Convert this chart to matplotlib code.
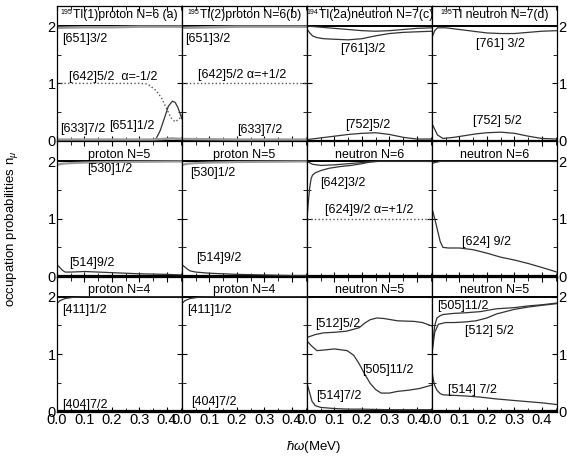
import numpy as np
import matplotlib
matplotlib.use('Agg')
import matplotlib.pyplot as plt
from matplotlib.ticker import MultipleLocator
from matplotlib.offsetbox import TextArea, HPacker, AnnotationBbox

plt.rcParams['font.family'] = ['Liberation Sans', 'DejaVu Sans']
plt.rcParams['mathtext.fontset'] = 'custom'
plt.rcParams['mathtext.rm'] = 'Liberation Sans'
plt.rcParams['mathtext.it'] = 'Liberation Sans:italic'

# ---- row 1 : N=6 proton / N=7 neutron ----
a1_651_32_x = [0, 0.1, 0.2, 0.3, 0.455]
a1_651_32_y = [1.97, 1.98, 1.98, 1.99, 1.99]
a1_642_52_x = [0, 0.1, 0.2, 0.3, 0.33, 0.36, 0.38, 0.40, 0.415, 0.43, 0.445, 0.455]
a1_642_52_y = [1.0, 1.0, 1.0, 1.0, 0.99, 0.88, 0.75, 0.55, 0.40, 0.33, 0.38, 0.45]
a1_651_12_x = [0, 0.34, 0.36, 0.375, 0.39, 0.405, 0.42, 0.43, 0.44, 0.455]
a1_651_12_y = [0, 0, 0.03, 0.17, 0.38, 0.60, 0.69, 0.67, 0.58, 0.38]
a1_633_72_x = [0, 0.2, 0.35, 0.42, 0.455]
a1_633_72_y = [0.02, 0.02, 0.02, 0.04, 0.03]

b1_651_32_x = [0, 0.1, 0.2, 0.3, 0.455]
b1_651_32_y = [1.97, 1.98, 1.99, 1.99, 1.99]
b1_642_52_x = [0, 0.455]
b1_642_52_y = [1.0, 1.0]
b1_633_72_x = [0, 0.2, 0.455]
b1_633_72_y = [0.03, 0.02, 0.02]

c1_761_32_x = [0, 0.01, 0.02, 0.035, 0.06, 0.1, 0.15, 0.2, 0.25, 0.3, 0.35, 0.4, 0.455]
c1_761_32_y = [1.95, 1.88, 1.83, 1.80, 1.78, 1.77, 1.76, 1.78, 1.83, 1.87, 1.89, 1.90, 1.91]
c1_up_x = [0, 0.05, 0.1, 0.15, 0.2, 0.25, 0.3, 0.35, 0.4, 0.455]
c1_up_y = [2.0, 1.98, 1.96, 1.94, 1.92, 1.91, 1.92, 1.94, 1.96, 1.97]
c1_752_52_x = [0, 0.05, 0.1, 0.15, 0.2, 0.25, 0.3, 0.35, 0.4, 0.455]
c1_752_52_y = [0.02, 0.05, 0.08, 0.11, 0.13, 0.14, 0.11, 0.06, 0.03, 0.03]

d1_761_32_x = [0, 0.01, 0.02, 0.05, 0.1, 0.15, 0.2, 0.25, 0.3, 0.35, 0.4, 0.455]
d1_761_32_y = [1.80, 1.92, 1.97, 1.97, 1.94, 1.91, 1.88, 1.87, 1.87, 1.89, 1.91, 1.92]
d1_752_52_x = [0, 0.01, 0.02, 0.04, 0.08, 0.12, 0.16, 0.2, 0.25, 0.3, 0.35, 0.4, 0.455]
d1_752_52_y = [0.30, 0.20, 0.10, 0.04, 0.06, 0.09, 0.12, 0.14, 0.15, 0.13, 0.08, 0.04, 0.03]

# ---- row 2 : proton N=5 / neutron N=6 ----
a2_530_12_x = [0, 0.02, 0.05, 0.1, 0.2, 0.455]
a2_530_12_y = [1.94, 1.96, 1.97, 1.98, 1.99, 2.0]
a2_514_92_x = [0, 0.01, 0.02, 0.03, 0.05, 0.1, 0.15, 0.2, 0.3, 0.4, 0.455]
a2_514_92_y = [0.20, 0.15, 0.10, 0.07, 0.07, 0.08, 0.07, 0.06, 0.04, 0.03, 0.02]

b2_530_12_x = [0, 0.02, 0.05, 0.1, 0.2, 0.455]
b2_530_12_y = [1.94, 1.96, 1.97, 1.98, 1.99, 2.0]
b2_514_92_x = [0, 0.01, 0.02, 0.03, 0.05, 0.1, 0.15, 0.2, 0.3, 0.4, 0.455]
b2_514_92_y = [0.20, 0.16, 0.12, 0.09, 0.07, 0.05, 0.04, 0.03, 0.02, 0.01, 0.01]

c2_642_32_x = [0, 0.005, 0.01, 0.015, 0.02, 0.03, 0.05, 0.08, 0.12, 0.16, 0.2, 0.23, 0.26, 0.455]
c2_642_32_y = [1.0, 1.3, 1.55, 1.70, 1.76, 1.80, 1.84, 1.88, 1.91, 1.93, 1.96, 1.99, 2.0, 2.0]
c2_up_x = [0, 0.02, 0.05, 0.1, 0.15, 0.2, 0.25, 0.455]
c2_up_y = [2.0, 1.95, 1.93, 1.94, 1.96, 1.98, 2.0, 2.0]
c2_624_92_x = [0, 0.455]
c2_624_92_y = [1.0, 1.0]

d2_624_92_x = [0, 0.01, 0.02, 0.03, 0.04, 0.06, 0.1, 0.15, 0.2, 0.25, 0.3, 0.35, 0.4, 0.455]
d2_624_92_y = [1.18, 1.0, 0.8, 0.6, 0.5, 0.49, 0.49, 0.46, 0.40, 0.33, 0.28, 0.22, 0.15, 0.07]
d2_up_x = [0, 0.01, 0.03, 0.455]
d2_up_y = [1.96, 1.98, 2.0, 2.0]

# ---- row 3 : proton N=4 / neutron N=5 ----
a3_411_12_x = [0, 0.01, 0.03, 0.06, 0.1, 0.455]
a3_411_12_y = [1.88, 1.93, 1.97, 1.99, 2.0, 2.0]
b3_411_12_x = [0, 0.01, 0.03, 0.06, 0.1, 0.455]
b3_411_12_y = [1.88, 1.93, 1.97, 1.99, 2.0, 2.0]

c3_512_52_x = [0, 0.03, 0.06, 0.1, 0.145, 0.19, 0.21, 0.23, 0.255, 0.28, 0.33, 0.39, 0.42, 0.455]
c3_512_52_y = [1.29, 1.34, 1.37, 1.38, 1.40, 1.46, 1.54, 1.60, 1.63, 1.62, 1.58, 1.57, 1.55, 1.49]
c3_505_112_x = [0, 0.015, 0.036, 0.06, 0.1, 0.146, 0.17, 0.19, 0.21, 0.23, 0.25, 0.27, 0.3, 0.33, 0.37, 0.41, 0.455]
c3_505_112_y = [1.23, 1.15, 1.06, 1.07, 1.09, 1.06, 0.98, 0.83, 0.65, 0.49, 0.38, 0.32, 0.32, 0.35, 0.37, 0.40, 0.46]
c3_514_72_x = [0, 0.01, 0.018, 0.03, 0.05, 0.1, 0.15, 0.2, 0.3, 0.4, 0.455]
c3_514_72_y = [0.49, 0.32, 0.18, 0.10, 0.07, 0.05, 0.04, 0.04, 0.03, 0.03, 0.03]

d3_505_112_x = [0, 0.005, 0.01, 0.018, 0.03, 0.04, 0.08, 0.12, 0.175, 0.21, 0.235, 0.3, 0.35, 0.4, 0.455]
d3_505_112_y = [1.06, 1.30, 1.50, 1.63, 1.67, 1.69, 1.71, 1.72, 1.74, 1.77, 1.79, 1.81, 1.84, 1.86, 1.89]
d3_512_52_x = [0, 0.005, 0.01, 0.023, 0.05, 0.08, 0.12, 0.16, 0.2, 0.22, 0.235, 0.3, 0.35, 0.4, 0.455]
d3_512_52_y = [1.0, 1.2, 1.38, 1.52, 1.55, 1.55, 1.56, 1.58, 1.63, 1.67, 1.70, 1.78, 1.82, 1.85, 1.88]
d3_514_72_x = [0, 0.005, 0.01, 0.018, 0.03, 0.04, 0.08, 0.12, 0.175, 0.23, 0.3, 0.35, 0.4, 0.455]
d3_514_72_y = [0.70, 0.55, 0.45, 0.37, 0.31, 0.29, 0.28, 0.27, 0.25, 0.22, 0.19, 0.17, 0.15, 0.12]

# top row titles: (mass number, rest of title)
top_mass = ['195', '195', '194', '195']
top_title = ['Tl(1)proton N=6 (a)', 'Tl(2)proton N=6(b)',
             'Tl(2a)neutron N=7(c)', 'Tl neutron N=7(d)']
row_titles = [
    ['proton N=5', 'proton N=5', 'neutron N=6', 'neutron N=6'],
    ['proton N=4', 'proton N=4', 'neutron N=5', 'neutron N=5'],
]

fig, axes = plt.subplots(3, 4, figsize=(5.67, 4.57), dpi=100, sharex=True, sharey=True)
fig.subplots_adjust(left=57/567, right=557/567, top=1-6/457, bottom=1-412/457,
                    wspace=0, hspace=0)

dark = '#333333'
gray = '#999999'

for i in range(3):
    for j in range(4):
        ax = axes[i, j]
        ax.set_xlim(0, 0.455)
        ax.set_ylim(-0.01, 2.35)
        ax.axhline(2, color='black', lw=1.4, zorder=1)
        ax.axhline(0, color='black', lw=1.6, zorder=1)
        ax.xaxis.set_major_locator(MultipleLocator(0.1))
        ax.xaxis.set_minor_locator(MultipleLocator(0.05))
        ax.yaxis.set_major_locator(MultipleLocator(1))
        ax.yaxis.set_minor_locator(MultipleLocator(0.5))
        ax.tick_params(which='both', direction='in', top=True, right=True,
                       labelsize=10.5, pad=1)
        ax.tick_params(which='major', length=3.5)
        ax.tick_params(which='minor', length=3)
        ax.tick_params(axis='y', labelleft=(j == 0), labelright=(j == 3))
        for s in ax.spines.values():
            s.set_linewidth(0.9)
        if i == 0:
            sup = TextArea(top_mass[j], textprops=dict(fontsize=5))
            main = TextArea(top_title[j], textprops=dict(fontsize=8.8))
            box = HPacker(children=[sup, main], align='top', pad=0, sep=0.5)
            ab = AnnotationBbox(box, (0.2275, 2.2), xycoords='data', frameon=False,
                                box_alignment=(0.5, 0.5), pad=0)
            ax.add_artist(ab)
        else:
            ax.text(0.2275, 2.12, row_titles[i - 1][j], ha='center', va='center', fontsize=9)
        ax.xaxis.set_major_formatter(plt.FuncFormatter(lambda v, p: '%.1f' % v))

def curve(ax, x, y, c=dark, lw=0.9, ls='-'):
    ax.plot(x, y, color=c, lw=lw, ls=ls, zorder=2)

def lab(ax, x, y, s):
    ax.text(x, y, s, ha='left', va='center', fontsize=9)

# row 1
ax = axes[0, 0]
curve(ax, a1_651_32_x, a1_651_32_y, gray, 1.8)
curve(ax, a1_642_52_x, a1_642_52_y, '#555555', 1.0, ':')
curve(ax, a1_651_12_x, a1_651_12_y)
curve(ax, a1_633_72_x, a1_633_72_y, gray, 1.8)
lab(ax, 0.02, 1.78, '[651]3/2')
lab(ax, 0.045, 1.12, '[642]5/2  α=-1/2')
lab(ax, 0.01, 0.2, '[633]7/2')
lab(ax, 0.19, 0.25, '[651]1/2')

ax = axes[0, 1]
curve(ax, b1_651_32_x, b1_651_32_y, gray, 1.8)
curve(ax, b1_642_52_x, b1_642_52_y, '#555555', 1.0, ':')
curve(ax, b1_633_72_x, b1_633_72_y, gray, 1.8)
lab(ax, 0.01, 1.78, '[651]3/2')
lab(ax, 0.06, 1.15, '[642]5/2 α=+1/2')
lab(ax, 0.2, 0.18, '[633]7/2')

ax = axes[0, 2]
curve(ax, c1_up_x, c1_up_y)
curve(ax, c1_761_32_x, c1_761_32_y)
curve(ax, c1_752_52_x, c1_752_52_y)
lab(ax, 0.12, 1.6, '[761]3/2')
lab(ax, 0.14, 0.27, '[752]5/2')

ax = axes[0, 3]
curve(ax, d1_761_32_x, d1_761_32_y)
curve(ax, d1_752_52_x, d1_752_52_y)
lab(ax, 0.16, 1.68, '[761] 3/2')
lab(ax, 0.15, 0.35, '[752] 5/2')

# row 2
ax = axes[1, 0]
curve(ax, a2_530_12_x, a2_530_12_y, gray, 1.6)
curve(ax, a2_514_92_x, a2_514_92_y)
lab(ax, 0.11, 1.86, '[530]1/2')
lab(ax, 0.045, 0.23, '[514]9/2')

ax = axes[1, 1]
curve(ax, b2_530_12_x, b2_530_12_y, gray, 1.6)
curve(ax, b2_514_92_x, b2_514_92_y)
lab(ax, 0.03, 1.8, '[530]1/2')
lab(ax, 0.05, 0.31, '[514]9/2')

ax = axes[1, 2]
curve(ax, c2_up_x, c2_up_y)
curve(ax, c2_642_32_x, c2_642_32_y)
curve(ax, c2_624_92_x, c2_624_92_y, '#555555', 1.0, ':')
lab(ax, 0.047, 1.63, '[642]3/2')
lab(ax, 0.065, 1.15, '[624]9/2 α=+1/2')

ax = axes[1, 3]
curve(ax, d2_up_x, d2_up_y)
curve(ax, d2_624_92_x, d2_624_92_y)
lab(ax, 0.11, 0.59, '[624] 9/2')

# row 3
ax = axes[2, 0]
curve(ax, a3_411_12_x, a3_411_12_y)
lab(ax, 0.02, 1.76, '[411]1/2')
lab(ax, 0.02, 0.12, '[404]7/2')

ax = axes[2, 1]
curve(ax, b3_411_12_x, b3_411_12_y)
lab(ax, 0.02, 1.76, '[411]1/2')
lab(ax, 0.035, 0.16, '[404]7/2')

ax = axes[2, 2]
curve(ax, c3_512_52_x, c3_512_52_y)
curve(ax, c3_505_112_x, c3_505_112_y)
curve(ax, c3_514_72_x, c3_514_72_y)
lab(ax, 0.03, 1.53, '[512]5/2')
lab(ax, 0.2, 0.72, '[505]11/2')
lab(ax, 0.033, 0.27, '[514]7/2')

ax = axes[2, 3]
curve(ax, d3_505_112_x, d3_505_112_y)
curve(ax, d3_512_52_x, d3_512_52_y)
curve(ax, d3_514_72_x, d3_514_72_y)
lab(ax, 0.02, 1.83, '[505]11/2')
lab(ax, 0.12, 1.41, '[512] 5/2')
lab(ax, 0.06, 0.38, '[514] 7/2')

fig.text(313/567, 1-447/457, r'$\hbar\omega$(MeV)', ha='center', va='center', fontsize=9.5)
fig.text(12/567, 0.5, r'occupation probabilities n$_\mu$', rotation=90,
         ha='center', va='center', fontsize=9.5)

fig.savefig('out.png', dpi=100)
